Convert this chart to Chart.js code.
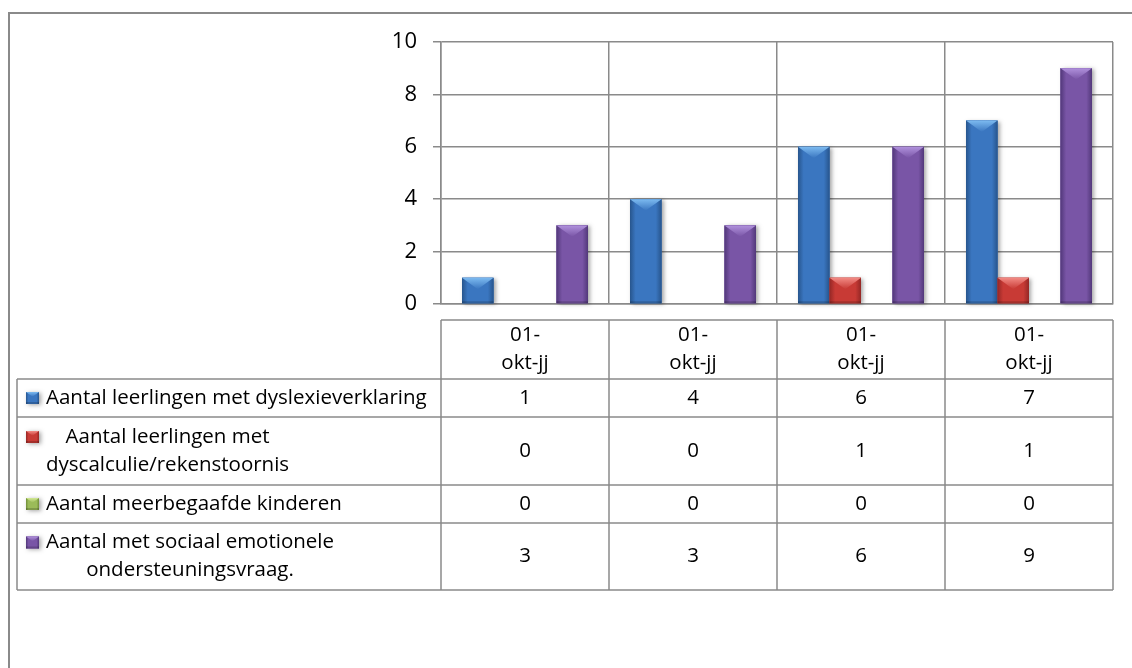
<!DOCTYPE html>
<html>
<head>
<meta charset="utf-8">
<script src="https://cdn.jsdelivr.net/npm/chart.js@4/dist/chart.umd.min.js"></script>
<style>
  html, body { margin: 0; padding: 0; background: #fff; }
  canvas { display: block; }
</style>
</head>
<body>
<canvas id="chart" width="1132" height="668"></canvas>
<script>
// Leerlingen met extra ondersteuningsbehoefte per teldatum (kolommen + gegevenstabel)

const categories = [['01-', 'okt-jj'], ['01-', 'okt-jj'], ['01-', 'okt-jj'], ['01-', 'okt-jj']];
const seriesNames = [
  ['Aantal leerlingen met dyslexieverklaring'],
  ['Aantal leerlingen met', 'dyscalculie/rekenstoornis'],
  ['Aantal meerbegaafde kinderen'],
  ['Aantal met sociaal emotionele', 'ondersteuningsvraag.']
];
const dyslexie = [1, 4, 6, 7];
const dyscalculie = [0, 0, 1, 1];
const meerbegaafd = [0, 0, 0, 0];
const sociaalEmotioneel = [3, 3, 6, 9];
const yTicks = [0, 2, 4, 6, 8, 10];

const palette = [
  { mid: '#3a76c0', dark: '#27558d', light: '#7cbaf0' },
  { mid: '#c83a35', dark: '#942725', light: '#f28a84' },
  { mid: '#9bbb59', dark: '#6f8c38', light: '#d3e995' },
  { mid: '#7955a6', dark: '#52387a', light: '#b091dc' }
];
const gridColor = '#8a8a8a';
const fontFamily = '"Open Sans", "Noto Sans", sans-serif';

// bar with a chiselled top like the Excel bevel style
function paintBar(ctx, left, top, w, h, c) {
  ctx.save();
  ctx.shadowColor = 'rgba(0,0,0,0.35)';
  ctx.shadowBlur = 4;
  ctx.shadowOffsetX = 2;
  ctx.shadowOffsetY = 1;
  ctx.fillStyle = c.mid;
  ctx.fillRect(left, top, w, h);
  ctx.restore();

  const g = ctx.createLinearGradient(left, 0, left + w, 0);
  g.addColorStop(0, c.dark);
  g.addColorStop(0.18, c.mid);
  g.addColorStop(0.5, c.mid);
  g.addColorStop(0.82, c.mid);
  g.addColorStop(1, c.dark);
  ctx.fillStyle = g;
  ctx.fillRect(left, top, w, h);

  const d = Math.min(w * 0.36, h);
  const tg = ctx.createLinearGradient(0, top, 0, top + d);
  tg.addColorStop(0, c.light);
  tg.addColorStop(1, c.mid);
  ctx.fillStyle = tg;
  ctx.beginPath();
  ctx.moveTo(left, top);
  ctx.lineTo(left + w, top);
  ctx.lineTo(left + w / 2, top + d);
  ctx.closePath();
  ctx.fill();

  ctx.fillStyle = 'rgba(0,0,0,0.18)';
  ctx.fillRect(left, top + h - 2, w, 2);
}

const framePlugin = {
  id: 'frame',
  beforeDraw(chart) {
    const ctx = chart.ctx;
    ctx.save();
    ctx.fillStyle = '#fff';
    ctx.fillRect(0, 0, chart.width, chart.height);
    ctx.strokeStyle = '#8a8a8a';
    ctx.lineWidth = 2;
    ctx.beginPath();
    ctx.moveTo(9, chart.height);
    ctx.lineTo(9, 13);
    ctx.lineTo(chart.width, 13);
    ctx.stroke();
    ctx.restore();
  }
};

const bevelPlugin = {
  id: 'bevel',
  afterDatasetsDraw(chart) {
    const ctx = chart.ctx;
    chart.data.datasets.forEach((ds, di) => {
      chart.getDatasetMeta(di).data.forEach(bar => {
        const p = bar.getProps(['x', 'y', 'base', 'width'], true);
        const h = p.base - p.y;
        if (h < 1) return;
        paintBar(ctx, p.x - p.width / 2, p.y, p.width, h, palette[di]);
      });
    });
  }
};

const tablePlugin = {
  id: 'dataTable',
  afterDraw(chart) {
    const ctx = chart.ctx;
    const xs = chart.scales.x;
    const area = chart.chartArea;
    const colW = xs.getPixelForValue(1) - xs.getPixelForValue(0);
    const headTop = 320, headBottom = 379;
    const rowBottoms = [417, 485, 523, 590];
    const legendLeft = 17, textLeft = 46, lh = 28;
    const datasets = chart.data.datasets;

    ctx.save();
    ctx.strokeStyle = gridColor;
    ctx.lineWidth = 1.5;

    // outline of the table
    ctx.beginPath();
    ctx.moveTo(area.left, headTop);
    ctx.lineTo(area.right, headTop);
    ctx.moveTo(legendLeft, headBottom);
    ctx.lineTo(area.right, headBottom);
    rowBottoms.forEach(y => { ctx.moveTo(legendLeft, y); ctx.lineTo(area.right, y); });
    ctx.moveTo(legendLeft, headBottom);
    ctx.lineTo(legendLeft, rowBottoms[rowBottoms.length - 1]);
    for (let i = 0; i <= chart.data.labels.length; i++) {
      const x = area.left + i * colW;
      ctx.moveTo(x, headTop);
      ctx.lineTo(x, rowBottoms[rowBottoms.length - 1]);
    }
    ctx.stroke();

    ctx.fillStyle = '#000';
    ctx.font = '20.5px ' + fontFamily;
    ctx.textBaseline = 'middle';
    ctx.textAlign = 'center';

    // header: category labels
    const headMid = (headTop + headBottom) / 2;
    chart.data.labels.forEach((lab, i) => {
      const cx = xs.getPixelForValue(i);
      lab.forEach((line, k) => {
        ctx.fillText(line, cx, headMid + (k - (lab.length - 1) / 2) * lh);
      });
    });

    // rows: legend key + series name + values
    datasets.forEach((ds, r) => {
      const top = r === 0 ? headBottom : rowBottoms[r - 1];
      const mid = (top + rowBottoms[r]) / 2;
      const lines = seriesNames[r];
      const firstY = mid - (lines.length - 1) * lh / 2;
      const blockW = Math.max(...lines.map(l => ctx.measureText(l).width));
      ctx.textAlign = 'center';
      ctx.fillStyle = '#000';
      lines.forEach((line, k) => {
        ctx.fillText(line, textLeft + blockW / 2, firstY + k * lh);
      });
      paintBar(ctx, 26, firstY - 6, 13, 12, palette[r]);
      ctx.fillStyle = '#000';
      ds.data.forEach((v, i) => {
        ctx.fillText(String(v), xs.getPixelForValue(i), mid);
      });
    });
    ctx.restore();
  }
};

new Chart(document.getElementById('chart'), {
  type: 'bar',
  data: {
    labels: categories,
    datasets: [
      { label: seriesNames[0].join(' '), data: dyslexie, backgroundColor: palette[0].mid },
      { label: seriesNames[1].join(' '), data: dyscalculie, backgroundColor: palette[1].mid },
      { label: seriesNames[2].join(' '), data: meerbegaafd, backgroundColor: palette[2].mid },
      { label: seriesNames[3].join(' '), data: sociaalEmotioneel, backgroundColor: palette[3].mid }
    ]
  },
  options: {
    responsive: false,
    animation: false,
    devicePixelRatio: 1,
    layout: { padding: { top: 42, right: 19, bottom: 364, left: 0 } },
    datasets: { bar: { categoryPercentage: 0.75, barPercentage: 1, borderWidth: 0 } },
    plugins: { legend: { display: false }, tooltip: { enabled: false } },
    scales: {
      x: {
        grid: { color: gridColor, lineWidth: 1.5, drawTicks: false, offset: true },
        border: { display: true, color: gridColor, width: 1.5 },
        ticks: { display: false },
        afterFit: s => { s.height = 0; }
      },
      y: {
        min: 0,
        max: 10,
        afterBuildTicks: s => { s.ticks = yTicks.map(v => ({ value: v })); },
        grid: { color: gridColor, lineWidth: 1.5, tickLength: 8 },
        border: { display: true, color: gridColor, width: 1.5 },
        ticks: { padding: 16, color: '#000', font: { family: fontFamily, size: 22 } },
        afterFit: s => { s.width = 441; }
      }
    }
  },
  plugins: [framePlugin, bevelPlugin, tablePlugin]
});
</script>
</body>
</html>
